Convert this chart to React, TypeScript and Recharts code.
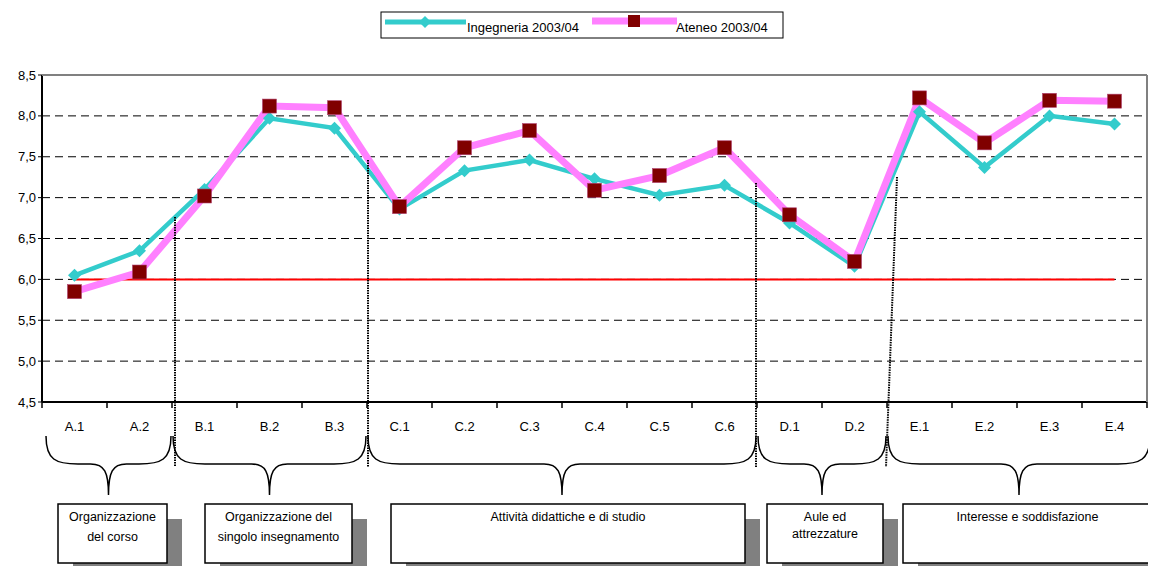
import React from 'react';
import { LineChart, Line, XAxis, YAxis, CartesianGrid, ReferenceLine } from 'recharts';

const categories = ['A.1', 'A.2', 'B.1', 'B.2', 'B.3', 'C.1', 'C.2', 'C.3', 'C.4', 'C.5', 'C.6', 'D.1', 'D.2', 'E.1', 'E.2', 'E.3', 'E.4'];
const ingegneria = [6.05, 6.35, 7.1, 7.97, 7.85, 6.86, 7.33, 7.46, 7.23, 7.03, 7.15, 6.69, 6.16, 8.05, 7.37, 8.0, 7.9];
const ateneo = [5.85, 6.09, 7.02, 8.12, 8.1, 6.89, 7.61, 7.82, 7.09, 7.27, 7.61, 6.79, 6.22, 8.22, 7.67, 8.19, 8.18];
const seriesNames = ['Ingegneria 2003/04', 'Ateneo 2003/04'];
const yTicks = [4.5, 5, 5.5, 6, 6.5, 7, 7.5, 8, 8.5];
const threshold = 6;

// question groups: how many categories each covers, and the box caption
const groupSizes = [2, 3, 6, 2, 4];
const groupLabels = [
  ['Organizzazione', 'del corso'],
  ['Organizzazione del', 'singolo insegnamento'],
  ['Attività didattiche e di studio'],
  ['Aule ed', 'attrezzature'],
  ['Interesse e soddisfazione'],
];

const data = categories.map((cat, i) => ({ cat, ing: ingegneria[i], ate: ateneo[i] }));

// layout
const W = 1156;
const H = 574;
const PLOT = { left: 42, right: 1147, top: 75, bottom: 402 };
const SLOT = (PLOT.right - PLOT.left) / categories.length;
const FONT = '"Liberation Sans", Arial, sans-serif';

const boxes = [
  { x: 58, w: 109 },
  { x: 205, w: 147 },
  { x: 391, w: 354 },
  { x: 767, w: 116 },
  { x: 903, w: 249 },
];
const BOX_Y = 504;
const BOX_H = 59;
const SHADOW = 15;

const dividers = [
  { top: 217, dxTop: 3, dxBottom: 3 },
  { top: 160, dxTop: 1, dxBottom: 1 },
  { top: 183, dxTop: -1, dxBottom: -1 },
  { top: 177, dxTop: 10, dxBottom: -1 },
];

const renderDiamond = (props: any) => {
  const { cx, cy, index } = props;
  if (cx == null || cy == null) return <g key={`d${index}`} />;
  const r = 6.5;
  return (
    <path
      key={`d${index}`}
      d={`M${cx},${cy - r}L${cx + r},${cy}L${cx},${cy + r}L${cx - r},${cy}Z`}
      fill="#33CCCC"
    />
  );
};

const renderSquare = (props: any) => {
  const { cx, cy, index } = props;
  if (cx == null || cy == null) return <g key={`s${index}`} />;
  const s = 14;
  return <rect key={`s${index}`} x={cx - s / 2} y={cy - s / 2} width={s} height={s} fill="#800000" stroke="#b04070" strokeWidth={0.6} />;
};

function bracePath(x0: number, x1: number) {
  const yTop = 436;
  const yMid = 464;
  const yTip = 495;
  const xc = (x0 + x1) / 2;
  const r = 32;
  return [
    `M${x0},${yTop}`,
    `C${x0},${yMid - 4} ${x0 + 10},${yMid} ${x0 + r},${yMid}`,
    `L${xc - 18},${yMid}`,
    `C${xc - 4},${yMid} ${xc},${yMid + 8} ${xc},${yTip}`,
    `C${xc},${yMid + 8} ${xc + 4},${yMid} ${xc + 18},${yMid}`,
    `L${x1 - r},${yMid}`,
    `C${x1 - 10},${yMid} ${x1},${yMid - 4} ${x1},${yTop}`,
  ].join(' ');
}

function Annotations() {
  let acc = 0;
  const bounds = groupSizes.map((n) => {
    const start = acc;
    acc += n;
    return [PLOT.left + start * SLOT, PLOT.left + acc * SLOT];
  });
  return (
    <svg width={W} height={H} style={{ position: 'absolute', left: 0, top: 0, pointerEvents: 'none' }} fontFamily={FONT}>
      {/* frame */}
      <line x1={PLOT.left} y1={PLOT.top} x2={PLOT.right} y2={PLOT.top} stroke="#808080" strokeWidth={2} />
      <line x1={PLOT.right} y1={PLOT.top} x2={PLOT.right} y2={PLOT.bottom} stroke="#808080" strokeWidth={2} />
      {categories.concat('').map((_, i) => (
        <line key={i} x1={PLOT.left + i * SLOT} y1={PLOT.bottom} x2={PLOT.left + i * SLOT} y2={PLOT.bottom + 6} stroke="#000" strokeWidth={1.5} />
      ))}

      {/* dotted separators */}
      {dividers.map((d, i) => {
        const x = bounds[i][1];
        return (
          <line key={i} x1={x + d.dxTop} y1={d.top} x2={x + d.dxBottom} y2={467} stroke="#000" strokeWidth={2} strokeDasharray="1.5 1" />
        );
      })}

      {/* braces */}
      {bounds.map(([x0, x1], i) => {
        const a = i === 0 ? 46 : x0 + 1;
        const b = i === bounds.length - 1 ? 1150 : x1 - 1;
        return <path key={i} d={bracePath(a, b)} fill="none" stroke="#000" strokeWidth={1.5} />;
      })}

      {/* caption boxes */}
      {boxes.map((b, i) => {
        const lines = groupLabels[i];
        const cx = b.x + b.w / 2;
        return (
          <g key={i}>
            <rect x={b.x + SHADOW} y={BOX_Y + SHADOW} width={b.w} height={BOX_H + 20} fill="#808080" />
            <rect x={b.x} y={BOX_Y} width={b.w} height={BOX_H} fill="#fff" stroke="#000" strokeWidth={1.5} />
            {lines.map((t, j) => (
              <text key={j} x={cx} y={BOX_Y + 17 + j * (i === 3 ? 17 : 20)} textAnchor="middle" fontSize={12.5} fill="#000">
                {t}
              </text>
            ))}
          </g>
        );
      })}

      {/* legend */}
      <rect x={381} y={12} width={402} height={26} fill="#fff" stroke="#000" strokeWidth={1} />
      <line x1={385} y1={22} x2={466} y2={22} stroke="#33CCCC" strokeWidth={5} />
      <path d="M425,16L431,22L425,28L419,22Z" fill="#33CCCC" />
      <text x={467} y={32} fontSize={13} fill="#000">{seriesNames[0]}</text>
      <line x1={592} y1={21} x2={677} y2={21} stroke="#FF80FF" strokeWidth={7} />
      <rect x={628} y={15} width={12} height={12} fill="#800000" />
      <text x={676} y={32} fontSize={13} fill="#000">{seriesNames[1]}</text>
    </svg>
  );
}

export default function App() {
  const pad = SLOT / 2;
  return (
    <div style={{ position: 'relative', width: W, height: H, margin: -8, background: '#fff', fontFamily: FONT }}>
      <LineChart width={W} height={H} data={data} margin={{ top: PLOT.top, right: W - PLOT.right, left: 0, bottom: H - PLOT.bottom - 30 }}>
        <CartesianGrid vertical={false} stroke="#000" strokeDasharray="8 5" />
        <XAxis
          dataKey="cat"
          height={30}
          interval={0}
          padding={{ left: pad, right: pad }}
          tickLine={false}
          tickSize={6}
          tickMargin={14}
          axisLine={{ stroke: '#000', strokeWidth: 2 }}
          tick={{ fill: '#000', fontSize: 13, fontFamily: FONT }}
        />
        <YAxis
          width={PLOT.left}
          domain={[4.5, 8.5]}
          ticks={yTicks}
          interval={0}
          tickSize={4}
          tickFormatter={(v: number) => v.toFixed(1).replace('.', ',')}
          tickLine={{ stroke: '#000' }}
          axisLine={{ stroke: '#000', strokeWidth: 2 }}
          tick={{ fill: '#000', fontSize: 13, fontFamily: FONT }}
        />
        <ReferenceLine
          segment={[
            { x: categories[0], y: threshold },
            { x: categories[categories.length - 1], y: threshold },
          ]}
          stroke="#FF0000"
          strokeWidth={2}
        />
        <Line dataKey="ing" name={seriesNames[0]} stroke="#33CCCC" strokeWidth={4.5} dot={renderDiamond} activeDot={false} isAnimationActive={false} />
        <Line dataKey="ate" name={seriesNames[1]} stroke="#FF80FF" strokeWidth={7} dot={renderSquare} activeDot={false} isAnimationActive={false} />
      </LineChart>
      <Annotations />
    </div>
  );
}
